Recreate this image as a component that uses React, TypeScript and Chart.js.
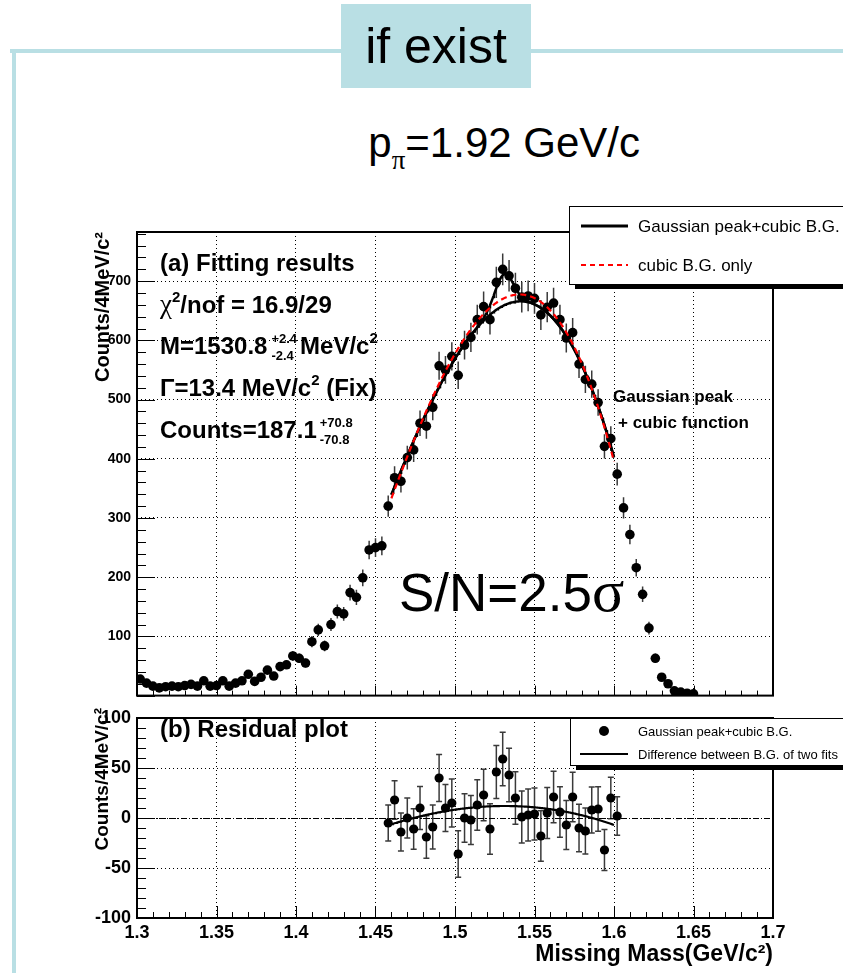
import { useEffect, useRef } from "react";
import { Chart, registerables } from "chart.js";

Chart.register(...registerables);

const SANS = "'Liberation Sans', Arial, Helvetica, sans-serif";
const SERIF = "'Liberation Serif', 'Times New Roman', serif";
const TEAL = "#b9dfe4";

// Missing-mass histogram, 4 MeV/c^2 bins (bin centres in GeV/c^2)
const massBins = [
  1.302, 1.306, 1.31, 1.314, 1.318, 1.322, 1.326, 1.33, 1.334, 1.338,
  1.342, 1.346, 1.35, 1.354, 1.358, 1.362, 1.366, 1.37, 1.374, 1.378,
  1.382, 1.386, 1.39, 1.394, 1.398, 1.402, 1.406, 1.41, 1.414, 1.418,
  1.422, 1.426, 1.43, 1.434, 1.438, 1.442, 1.446, 1.45, 1.454, 1.458,
  1.462, 1.466, 1.47, 1.474, 1.478, 1.482, 1.486, 1.49, 1.494, 1.498,
  1.502, 1.506, 1.51, 1.514, 1.518, 1.522, 1.526, 1.53, 1.534, 1.538,
  1.542, 1.546, 1.55, 1.554, 1.558, 1.562, 1.566, 1.57, 1.574, 1.578,
  1.582, 1.586, 1.59, 1.594, 1.598, 1.602, 1.606, 1.61, 1.614, 1.618,
  1.622, 1.626, 1.63, 1.634, 1.638, 1.642, 1.646, 1.65,
];
const counts = [
  28, 21, 16, 13, 15, 16, 15, 17, 19, 16,
  25, 16, 17, 25, 16, 21, 25, 36, 24, 31,
  43, 33, 49, 52, 67, 63, 55, 91, 111, 84,
  120, 142, 138, 174, 166, 199, 246, 250, 253, 320,
  368, 362, 402, 415, 460, 455, 487, 557, 550, 573,
  541, 592, 605, 635, 657, 635, 698, 720, 709, 688,
  673, 675, 671, 643, 656, 663, 635, 604, 613, 560,
  534, 526, 495, 421, 434, 374, 317, 272, 216, 171,
  114, 63, 31, 20, 8, 6, 4, 3,
];

// Residuals inside the fit window: data minus the background of the Gaussian+cubic fit
const residualBins = [
  1.458, 1.462, 1.466, 1.47, 1.474, 1.478, 1.482, 1.486, 1.49, 1.494,
  1.498, 1.502, 1.506, 1.51, 1.514, 1.518, 1.522, 1.526, 1.53, 1.534,
  1.538, 1.542, 1.546, 1.55, 1.554, 1.558, 1.562, 1.566, 1.57, 1.574,
  1.578, 1.582, 1.586, 1.59, 1.594, 1.598, 1.602,
];
const residuals = [
  -5, 18, -14, 0, -11, 10, -19, -9, 40, 10,
  15, -36, 0, -2, 13, 23, -11, 46, 59, 43,
  20, 1, 3, 4, -18, 5, 21, 6, -7, 21,
  -10, -13, 8, 9, -32, 20, 2,
];

// Fit results
const fitRange = [1.46, 1.6];
const PEAK_MASS = 1.5308; // GeV/c^2
const PEAK_FWHM = 0.0134; // GeV/c^2 (fixed)
const PEAK_COUNTS = 187.1;
const BIN_WIDTH = 0.004;
// cubic polynomials in u = (m - 1.53) / 0.01
const cubicOnlyBG = [670, 13.93, -6.238, -0.1935];
const bgDifference = [12, 0.1, -0.38, -0.003];

// Axis ranges
const massRange = [1.3, 1.7];
const countRange = [0, 783];
const residualRange = [-100, 100];

const poly = (c: number[], m: number) => {
  const u = (m - 1.53) / 0.01;
  return c[0] + c[1] * u + c[2] * u * u + c[3] * u * u * u;
};
const SIGMA = PEAK_FWHM / (2 * Math.sqrt(2 * Math.log(2)));
const gauss = (m: number) =>
  ((PEAK_COUNTS * BIN_WIDTH) / (SIGMA * Math.sqrt(2 * Math.PI))) *
  Math.exp(-0.5 * ((m - PEAK_MASS) / SIGMA) ** 2);
const fitBG = (m: number) => poly(cubicOnlyBG, m) - poly(bgDifference, m);

const curve = (f: (m: number) => number) => {
  const pts: { x: number; y: number }[] = [];
  const n = 280;
  for (let i = 0; i <= n; i++) {
    const m = fitRange[0] + ((fitRange[1] - fitRange[0]) * i) / n;
    pts.push({ x: m, y: f(m) });
  }
  return pts;
};

const countAt = (m: number) => counts[massBins.indexOf(m)];

type Piece = {
  t?: string;
  top?: string;
  bottom?: string;
  size: number;
  bold?: boolean;
  serif?: boolean;
  rise?: number;
  gap?: number;
};

function drawPieces(ctx: CanvasRenderingContext2D, x: number, y: number, pieces: Piece[]) {
  let cx = x;
  ctx.textBaseline = "alphabetic";
  ctx.textAlign = "left";
  ctx.fillStyle = "#000";
  for (const p of pieces) {
    ctx.font = `${p.bold ? "bold " : ""}${p.size}px ${p.serif ? SERIF : SANS}`;
    cx += p.gap ?? 0;
    if (p.top !== undefined && p.bottom !== undefined) {
      ctx.fillText(p.top, cx, y - (p.rise ?? 11));
      ctx.fillText(p.bottom, cx, y + 6);
      cx += Math.max(ctx.measureText(p.top).width, ctx.measureText(p.bottom).width);
    } else if (p.t) {
      ctx.fillText(p.t, cx, y - (p.rise ?? 0));
      cx += ctx.measureText(p.t).width;
    }
  }
}

function legendBox(ctx: CanvasRenderingContext2D, x: number, y: number, h: number) {
  ctx.save();
  ctx.fillStyle = "#000";
  ctx.fillRect(x + 6, y + h, 900, 5);
  ctx.fillStyle = "#fff";
  ctx.fillRect(x, y, 900, h);
  ctx.strokeStyle = "#000";
  ctx.lineWidth = 1;
  ctx.strokeRect(x + 0.5, y + 0.5, 900, h);
  ctx.restore();
}

const errorBars = (datasetIndex: number, errs: number[], cap: number) => ({
  id: "errorBars",
  beforeDatasetsDraw(chart: any) {
    const { ctx, chartArea: a } = chart;
    const ys = chart.scales.y;
    const meta = chart.getDatasetMeta(datasetIndex);
    const data = chart.data.datasets[datasetIndex].data;
    ctx.save();
    ctx.beginPath();
    ctx.rect(a.left, a.top, a.right - a.left, a.bottom - a.top);
    ctx.clip();
    ctx.strokeStyle = "#3a3a3a";
    ctx.lineWidth = 1.5;
    ctx.beginPath();
    meta.data.forEach((pt: any, i: number) => {
      const v = data[i].y;
      const y1 = ys.getPixelForValue(v + errs[i]);
      const y2 = ys.getPixelForValue(v - errs[i]);
      ctx.moveTo(pt.x, y1);
      ctx.lineTo(pt.x, y2);
      if (cap > 0) {
        ctx.moveTo(pt.x - cap, y1);
        ctx.lineTo(pt.x + cap, y1);
        ctx.moveTo(pt.x - cap, y2);
        ctx.lineTo(pt.x + cap, y2);
      }
    });
    ctx.stroke();
    ctx.restore();
  },
});

const frameAndTicks = (yMinor: number, yMajor: number, xMajorLen: number, xMinorLen: number, zeroLine: boolean) => ({
  id: "frameAndTicks",
  afterDatasetsDraw(chart: any) {
    const { ctx, chartArea: a } = chart;
    const xs = chart.scales.x;
    const ys = chart.scales.y;
    ctx.save();
    if (zeroLine) {
      const py = Math.round(ys.getPixelForValue(0)) + 0.5;
      ctx.strokeStyle = "#000";
      ctx.lineWidth = 1;
      ctx.setLineDash([6, 2, 1, 2]);
      ctx.beginPath();
      ctx.moveTo(a.left, py);
      ctx.lineTo(a.right, py);
      ctx.stroke();
      ctx.setLineDash([]);
    }
    ctx.strokeStyle = "#000";
    ctx.lineWidth = 1;
    ctx.beginPath();
    const nY = Math.floor((ys.max - ys.min) / yMinor + 1e-6);
    for (let k = 0; k <= nY; k++) {
      const v = ys.min + k * yMinor;
      const major = Math.abs(v / yMajor - Math.round(v / yMajor)) < 1e-6;
      const py = Math.round(ys.getPixelForValue(v)) + 0.5;
      ctx.moveTo(a.left, py);
      ctx.lineTo(a.left + (major ? 18 : 9), py);
    }
    for (let k = 0; k <= 40; k++) {
      const v = massRange[0] + k * 0.01;
      const px = Math.round(xs.getPixelForValue(v)) + 0.5;
      ctx.moveTo(px, a.bottom);
      ctx.lineTo(px, a.bottom - (k % 5 === 0 ? xMajorLen : xMinorLen));
    }
    ctx.stroke();
    ctx.lineWidth = 2;
    ctx.strokeRect(a.left, a.top, a.right - a.left, a.bottom - a.top);
    ctx.restore();
  },
});

const topAnnotations = {
  id: "topAnnotations",
  afterDraw(chart: any) {
    const ctx: CanvasRenderingContext2D = chart.ctx;
    ctx.save();
    const S = 24;
    drawPieces(ctx, 160, 271, [{ t: "(a) Fitting results", size: S, bold: true }]);
    drawPieces(ctx, 160, 313, [
      { t: "χ", size: 27, serif: true },
      { t: "2", size: 15, bold: true, rise: 11 },
      { t: "/nof = 16.9/29", size: S, bold: true },
    ]);
    drawPieces(ctx, 160, 354, [
      { t: "M=1530.8", size: S, bold: true },
      { top: "+2.4", bottom: "-2.4", size: 13, bold: true, gap: 4 },
      { t: "MeV/c", size: S, bold: true, gap: 3 },
      { t: "2", size: 15, bold: true, rise: 11 },
    ]);
    drawPieces(ctx, 160, 396, [
      { t: "Γ=13.4 MeV/c", size: S, bold: true },
      { t: "2", size: 15, bold: true, rise: 11 },
      { t: " (Fix)", size: S, bold: true },
    ]);
    drawPieces(ctx, 160, 438, [
      { t: "Counts=187.1", size: S, bold: true },
      { top: "+70.8", bottom: "-70.8", size: 13, bold: true, gap: 3 },
    ]);
    drawPieces(ctx, 613, 402, [{ t: "Gaussian peak", size: 17, bold: true }]);
    drawPieces(ctx, 618, 428, [{ t: "+ cubic function", size: 17, bold: true }]);
    drawPieces(ctx, 399, 611, [
      { t: "S/N=2.5", size: 53 },
      { t: "σ", size: 60, serif: true },
    ]);

    // legend
    legendBox(ctx, 569, 206, 78);
    ctx.strokeStyle = "#000";
    ctx.lineWidth = 3;
    ctx.beginPath();
    ctx.moveTo(581, 226);
    ctx.lineTo(628, 226);
    ctx.stroke();
    ctx.strokeStyle = "#ff0000";
    ctx.lineWidth = 2;
    ctx.setLineDash([5, 4]);
    ctx.beginPath();
    ctx.moveTo(581, 265);
    ctx.lineTo(628, 265);
    ctx.stroke();
    ctx.setLineDash([]);
    drawPieces(ctx, 638, 232, [{ t: "Gaussian peak+cubic B.G.", size: 17 }]);
    drawPieces(ctx, 638, 271, [{ t: "cubic B.G. only", size: 17 }]);
    ctx.restore();
  },
};

// bottom canvas starts at page y = 700
const bottomAnnotations = {
  id: "bottomAnnotations",
  afterDraw(chart: any) {
    const ctx: CanvasRenderingContext2D = chart.ctx;
    ctx.save();
    drawPieces(ctx, 160, 37, [{ t: "(b) Residual plot", size: 24, bold: true }]);

    // y-axis title, rotated, ending just above the frame
    ctx.save();
    ctx.translate(103, 8);
    ctx.rotate(-Math.PI / 2);
    ctx.font = `bold 19px ${SANS}`;
    ctx.textAlign = "right";
    ctx.textBaseline = "middle";
    ctx.fillStyle = "#000";
    ctx.fillText("Counts/4MeV/c²", 0, 0);
    ctx.restore();

    legendBox(ctx, 570, 18, 47);
    ctx.fillStyle = "#000";
    ctx.beginPath();
    ctx.arc(604, 31, 5, 0, Math.PI * 2);
    ctx.fill();
    ctx.strokeStyle = "#000";
    ctx.lineWidth = 2;
    ctx.beginPath();
    ctx.moveTo(580, 54);
    ctx.lineTo(628, 54);
    ctx.stroke();
    drawPieces(ctx, 638, 36, [{ t: "Gaussian peak+cubic B.G.", size: 13 }]);
    drawPieces(ctx, 638, 59, [{ t: "Difference between B.G. of two fits", size: 13 }]);
    ctx.restore();
  },
};

const gridOpts = { color: "#000", lineWidth: 1, drawTicks: false };
const borderOpts = { display: false, dash: [1, 3] };

function topConfig(): any {
  return {
    type: "scatter",
    data: {
      datasets: [
        {
          type: "line",
          label: "cubic B.G. only",
          data: curve((m) => poly(cubicOnlyBG, m)),
          borderColor: "#ff0000",
          borderWidth: 2.2,
          borderDash: [6, 4],
          pointRadius: 0,
          order: 0,
        },
        {
          type: "line",
          label: "Gaussian peak+cubic B.G.",
          data: curve((m) => fitBG(m) + gauss(m)),
          borderColor: "#000",
          borderWidth: 2.5,
          pointRadius: 0,
          order: 1,
        },
        {
          type: "line",
          label: "cubic B.G. of the Gaussian fit",
          data: curve(fitBG),
          borderColor: "#000",
          borderWidth: 2.5,
          pointRadius: 0,
          order: 2,
        },
        {
          type: "scatter",
          label: "data",
          data: massBins.map((m, i) => ({ x: m, y: counts[i] })),
          pointRadius: 4.8,
          pointBackgroundColor: "#000",
          pointBorderColor: "#000",
          pointBorderWidth: 0,
          order: 3,
        },
      ],
    },
    options: {
      animation: false,
      responsive: false,
      events: [],
      layout: { padding: { left: 0, top: 232, right: 70, bottom: 8 }, autoPadding: false },
      plugins: { legend: { display: false }, tooltip: { enabled: false } },
      scales: {
        x: {
          type: "linear",
          min: massRange[0],
          max: massRange[1],
          ticks: { display: false, stepSize: 0.05 },
          grid: gridOpts,
          border: borderOpts,
          afterFit(s: any) {
            s.height = 0;
          },
        },
        y: {
          type: "linear",
          min: countRange[0],
          max: countRange[1],
          ticks: { stepSize: 100, color: "#000", padding: 6, font: { family: SANS, size: 14, weight: "bold" } },
          grid: gridOpts,
          border: borderOpts,
          title: {
            display: true,
            text: "Counts/4MeV/c²",
            align: "end",
            color: "#000",
            font: { family: SANS, size: 20, weight: "bold" },
            padding: { top: 91, bottom: 0 },
          },
          afterBuildTicks(s: any) {
            s.ticks = s.ticks.filter((t: any) => t.value > 0 && t.value % 100 === 0);
          },
          afterFit(s: any) {
            s.width = 137;
          },
        },
      },
    },
    plugins: [errorBars(3, counts.map((c) => Math.sqrt(c)), 0), frameAndTicks(20, 100, 10, 5, false), topAnnotations],
  };
}

function bottomConfig(): any {
  return {
    type: "scatter",
    data: {
      datasets: [
        {
          type: "line",
          label: "Difference between B.G. of two fits",
          data: curve((m) => poly(bgDifference, m)),
          borderColor: "#000",
          borderWidth: 2.2,
          pointRadius: 0,
          order: 0,
        },
        {
          type: "scatter",
          label: "Gaussian peak+cubic B.G.",
          data: residualBins.map((m, i) => ({ x: m, y: residuals[i] })),
          pointRadius: 4.6,
          pointBackgroundColor: "#000",
          pointBorderColor: "#000",
          pointBorderWidth: 0,
          order: 1,
        },
      ],
    },
    options: {
      animation: false,
      responsive: false,
      events: [],
      layout: { padding: { left: 0, top: 18, right: 70, bottom: 0 }, autoPadding: false },
      plugins: { legend: { display: false }, tooltip: { enabled: false } },
      scales: {
        x: {
          type: "linear",
          min: massRange[0],
          max: massRange[1],
          ticks: {
            stepSize: 0.05,
            autoSkip: false,
            maxRotation: 0,
            color: "#000",
            padding: 4,
            font: { family: SANS, size: 18, weight: "bold" },
            callback: (v: number) => Number(v).toFixed(2).replace(/0$/, ""),
          },
          grid: gridOpts,
          border: borderOpts,
          title: {
            display: true,
            text: "Missing Mass(GeV/c²)",
            align: "end",
            color: "#000",
            font: { family: SANS, size: 23, weight: "bold" },
            padding: { top: 0, bottom: 5 },
          },
          afterFit(s: any) {
            s.height = 55;
          },
        },
        y: {
          type: "linear",
          min: residualRange[0],
          max: residualRange[1],
          ticks: { stepSize: 50, color: "#000", padding: 6, font: { family: SANS, size: 18, weight: "bold" } },
          grid: gridOpts,
          border: borderOpts,
          afterFit(s: any) {
            s.width = 137;
          },
        },
      },
    },
    plugins: [
      errorBars(1, residualBins.map((m) => Math.sqrt(countAt(m))), 3),
      frameAndTicks(10, 50, 12, 6, true),
      bottomAnnotations,
    ],
  };
}

export default function App() {
  const topRef = useRef<HTMLCanvasElement>(null);
  const bottomRef = useRef<HTMLCanvasElement>(null);

  useEffect(() => {
    const top = new Chart(topRef.current!, topConfig());
    const bottom = new Chart(bottomRef.current!, bottomConfig());
    return () => {
      top.destroy();
      bottom.destroy();
    };
  }, []);

  return (
    <div
      style={{
        position: "absolute",
        left: 0,
        top: 0,
        width: 843,
        height: 973,
        overflow: "hidden",
        background: "#fff",
        fontFamily: SANS,
        color: "#000",
      }}
    >
      <div style={{ position: "absolute", left: 10, top: 49, width: 833, height: 4, background: TEAL }} />
      <div style={{ position: "absolute", left: 12, top: 49, width: 4, height: 924, background: TEAL }} />
      <div
        style={{
          position: "absolute",
          left: 341,
          top: 4,
          width: 190,
          height: 84,
          background: TEAL,
          display: "flex",
          alignItems: "center",
          justifyContent: "center",
          fontSize: 50,
          lineHeight: 1,
        }}
      >
        if exist
      </div>
      <div
        style={{
          position: "absolute",
          right: 203,
          top: 122,
          fontSize: 42,
          lineHeight: 1,
          whiteSpace: "nowrap",
        }}
      >
        p
        <span style={{ position: "relative", top: 12, fontSize: 27, fontFamily: SERIF }}>π</span>
        =1.92 GeV/c
      </div>
      <canvas ref={topRef} width={843} height={710} style={{ position: "absolute", left: 0, top: 0 }} />
      <canvas ref={bottomRef} width={843} height={273} style={{ position: "absolute", left: 0, top: 700 }} />
    </div>
  );
}
